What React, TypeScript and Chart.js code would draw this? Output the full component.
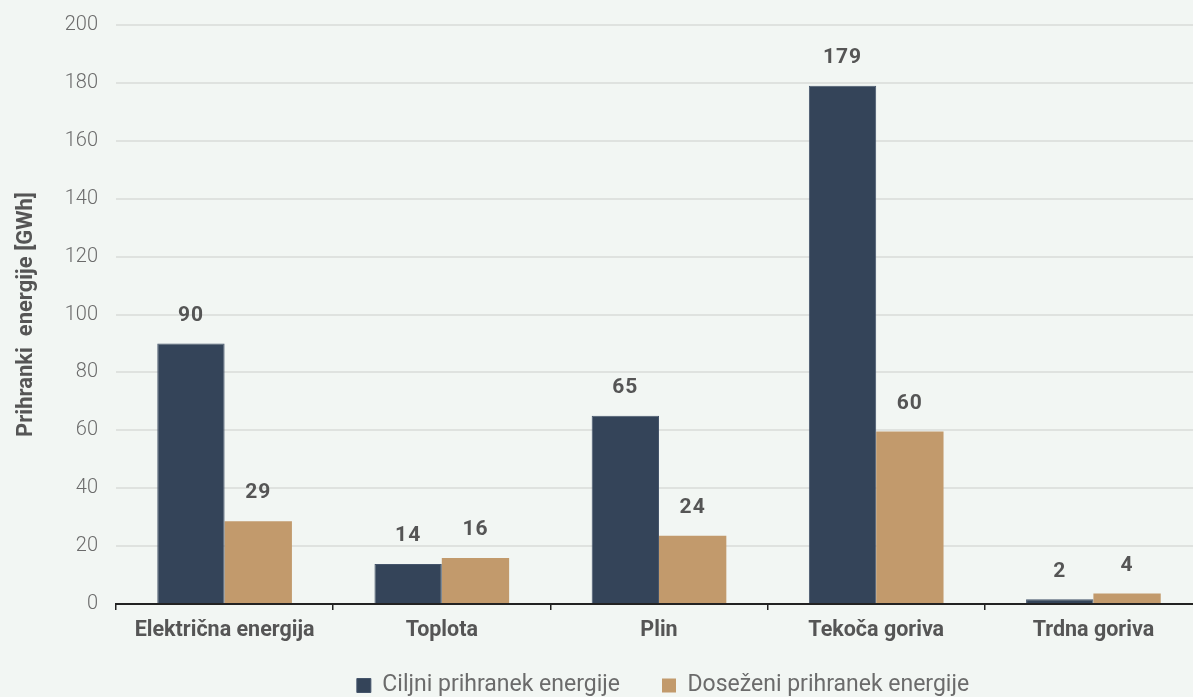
import React, { useEffect, useRef } from 'react';
import { Chart, registerables } from 'chart.js';

Chart.register(...registerables);

const categories = ['Električna energija', 'Toplota', 'Plin', 'Tekoča goriva', 'Trdna goriva'];
const targetSavings = [90, 13.8, 65, 179, 1.6];
const achievedSavings = [28.6, 15.9, 23.6, 59.6, 3.6];
const seriesNames = ['Ciljni prihranek energije', 'Doseženi prihranek energije'];
const yAxisTitle = 'Prihranki  energije [GWh]';
const yMin = 0;
const yMax = 200;
const yStep = 20;

const FONT = 'Roboto';

const valueLabels = {
  id: 'valueLabels',
  afterDatasetsDraw(chart: any) {
    const ctx = chart.ctx;
    ctx.save();
    ctx.font = `bold 21px ${FONT}`;
    ctx.fillStyle = '#555555';
    ctx.textAlign = 'center';
    ctx.textBaseline = 'middle';
    try { (ctx as any).letterSpacing = '1px'; } catch (e) {}
    chart.data.datasets.forEach((ds: any, i: number) => {
      const meta = chart.getDatasetMeta(i);
      meta.data.forEach((el: any, j: number) => {
        const v = ds.data[j] as number;
        ctx.fillText(String(Math.round(v)), el.x, el.y - 28);
      });
    });
    ctx.restore();
  },
};

// Pull the bottom legend a little closer to the axis labels
const legendNudge = {
  id: 'legendNudge',
  afterLayout(chart: any) {
    const lg = chart.legend;
    if (lg) {
      lg.top -= 16;
      lg.bottom -= 16;
    }
  },
};

export default function App() {
  const canvasRef = useRef<HTMLCanvasElement | null>(null);

  useEffect(() => {
    if (!canvasRef.current) return;
    const chart = new Chart(canvasRef.current, {
      type: 'bar',
      data: {
        labels: categories,
        datasets: [
          {
            label: seriesNames[0],
            data: targetSavings,
            backgroundColor: '#344459',
            borderColor: '#45556b',
            borderWidth: 1,
            categoryPercentage: 0.62,
            barPercentage: 1.0,
          },
          {
            label: seriesNames[1],
            data: achievedSavings,
            backgroundColor: '#c29a6c',
            borderWidth: 0,
            categoryPercentage: 0.62,
            barPercentage: 1.0,
          },
        ],
      },
      options: {
        animation: false,
        responsive: true,
        maintainAspectRatio: false,
        layout: { padding: { top: 25, left: 0, right: 0, bottom: 0 } },
        plugins: {
          tooltip: { enabled: false },
          legend: {
            position: 'bottom',
            labels: {
              boxWidth: 14,
              boxHeight: 14,
              padding: 42,
              color: '#6b6b6b',
              font: { family: FONT, size: 23, weight: 'normal' },
            },
          },
        },
        scales: {
          x: {
            grid: {
              display: true,
              drawOnChartArea: false,
              drawTicks: true,
              tickLength: 6,
              color: '#222222',
              lineWidth: 1.5,
              offset: true,
            },
            border: { display: true, color: '#222222', width: 2 },
            ticks: {
              color: '#555555',
              padding: 8,
              font: { family: FONT, size: 21.5, weight: 'bold' },
            },
            afterFit: (s: any) => { s.height = 44; },
          },
          y: {
            min: yMin,
            max: yMax,
            ticks: {
              stepSize: yStep,
              padding: 6,
              color: '#6b6b6b',
              font: { family: FONT, size: 20, weight: '300' },
            },
            grid: {
              color: '#dfe2df',
              lineWidth: 2,
              drawTicks: true,
              tickLength: 12,
              tickColor: 'rgba(0,0,0,0)',
            },
            border: { display: false },
            title: {
              display: true,
              text: yAxisTitle,
              color: '#555555',
              font: { family: FONT, size: 22, weight: 'bold' },
              padding: { top: 13, bottom: 0 },
            },
            afterFit: (s: any) => { s.width = 116; },
          },
          yR: {
            type: 'linear',
            position: 'right',
            display: true,
            grid: { display: false },
            ticks: { display: false },
            border: { display: false },
            afterFit: (s: any) => { s.width = 124; },
          },
        },
      } as any,
      plugins: [valueLabels, legendNudge],
    });
    return () => chart.destroy();
  }, []);

  return (
    <div
      style={{
        position: 'fixed',
        left: 0,
        top: 0,
        width: 1326,
        height: 723,
        background: '#f2f6f3',
      }}
    >
      <canvas ref={canvasRef} />
    </div>
  );
}
